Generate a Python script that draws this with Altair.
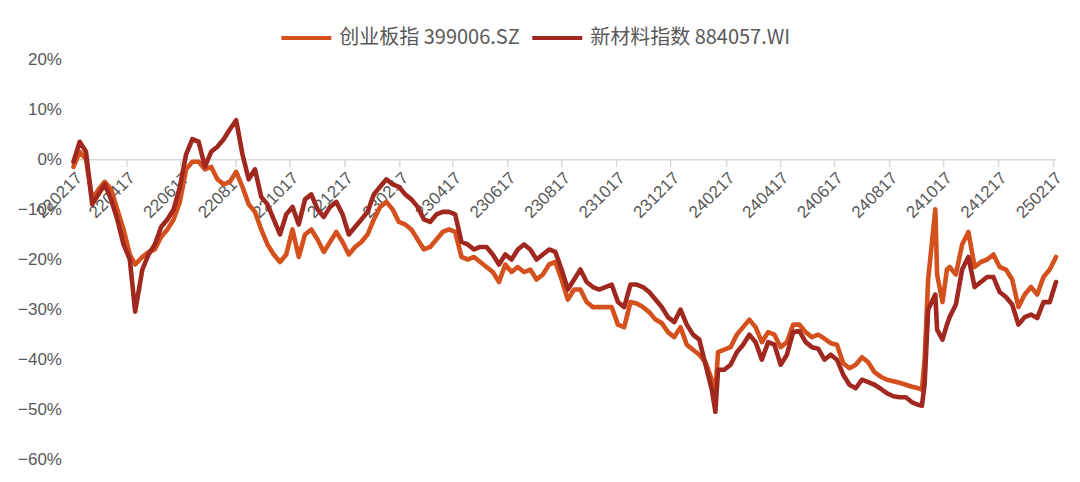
import altair as alt
import pandas as pd

CY = "创业板指 399006.SZ"
NM = "新材料指数 884057.WI"

dates = [
    "2022/02/17", "2022/02/24", "2022/03/03", "2022/03/10", "2022/03/17", "2022/03/24", "2022/03/31",
    "2022/04/07", "2022/04/14", "2022/04/21", "2022/04/27", "2022/05/05", "2022/05/12", "2022/05/19",
    "2022/05/26", "2022/06/02", "2022/06/09", "2022/06/16", "2022/06/23", "2022/06/30", "2022/07/07",
    "2022/07/14", "2022/07/21", "2022/07/28", "2022/08/04", "2022/08/11", "2022/08/18", "2022/08/25",
    "2022/09/01", "2022/09/08", "2022/09/15", "2022/09/22", "2022/09/29", "2022/10/06", "2022/10/13",
    "2022/10/20", "2022/10/27", "2022/11/03", "2022/11/10", "2022/11/17", "2022/11/24", "2022/12/01",
    "2022/12/08", "2022/12/15", "2022/12/22", "2022/12/29",
    "2023/01/05", "2023/01/12", "2023/01/19", "2023/01/26", "2023/02/02", "2023/02/09", "2023/02/16",
    "2023/02/23", "2023/03/02", "2023/03/09", "2023/03/16", "2023/03/23", "2023/03/30", "2023/04/06",
    "2023/04/13", "2023/04/20", "2023/04/27", "2023/05/04", "2023/05/11", "2023/05/18", "2023/05/25",
    "2023/06/01", "2023/06/08", "2023/06/15", "2023/06/22", "2023/06/29", "2023/07/06", "2023/07/13",
    "2023/07/20", "2023/07/27", "2023/08/03", "2023/08/10", "2023/08/17", "2023/08/24", "2023/08/31",
    "2023/09/07", "2023/09/14", "2023/09/21", "2023/09/28", "2023/10/05", "2023/10/12", "2023/10/19",
    "2023/10/26", "2023/11/02", "2023/11/09", "2023/11/16", "2023/11/23", "2023/11/30", "2023/12/07",
    "2023/12/14", "2023/12/21", "2023/12/28",
    "2024/01/04", "2024/01/11", "2024/01/18", "2024/01/25", "2024/02/01", "2024/02/05", "2024/02/08",
    "2024/02/15", "2024/02/22", "2024/02/29", "2024/03/07", "2024/03/14", "2024/03/21", "2024/03/28",
    "2024/04/04", "2024/04/11", "2024/04/18", "2024/04/25", "2024/05/02", "2024/05/09", "2024/05/16",
    "2024/05/23", "2024/05/30", "2024/06/06", "2024/06/13", "2024/06/20", "2024/06/27", "2024/07/04",
    "2024/07/11", "2024/07/18", "2024/07/25", "2024/08/01", "2024/08/08", "2024/08/15", "2024/08/22",
    "2024/08/29", "2024/09/05", "2024/09/12", "2024/09/19", "2024/09/23", "2024/09/26", "2024/09/30",
    "2024/10/08", "2024/10/10", "2024/10/16", "2024/10/21", "2024/10/24", "2024/10/31", "2024/11/07",
    "2024/11/14", "2024/11/21", "2024/11/28", "2024/12/05", "2024/12/12", "2024/12/19", "2024/12/26",
    "2025/01/02", "2025/01/09", "2025/01/16", "2025/01/23", "2025/01/30", "2025/02/06", "2025/02/13",
    "2025/02/20",
]

# 创业板指 399006.SZ, cumulative change in %
cy = [
    -1.5, 1.5, 0, -8, -6, -4.5, -6,
    -10, -14, -19, -21, -19.5, -18.5, -18,
    -15.5, -14, -12, -8.5, -2, -0.5, -0.5,
    -2, -1.5, -4, -5, -4.5, -2.5, -5.5,
    -9, -10.5, -14, -17, -19, -20.5, -19,
    -14, -19.5, -15, -14, -16, -18.5, -16.5,
    -14.5, -16.5, -19, -17.5,
    -16.5, -15, -12, -9.5, -8.5, -10, -12.5,
    -13, -14, -16, -18, -17.5, -16, -14.5,
    -14, -14.5, -19.5, -20, -19.5, -20.5, -21.5,
    -22.5, -24.5, -21, -22.5, -21.5, -22.5, -22,
    -24, -23, -21, -20.5, -24, -28, -26,
    -26, -28.5, -29.5, -29.5, -29.5, -29.5, -33,
    -33.5, -28.5, -28.8, -29.5, -30.5, -32, -32.7,
    -34.5, -35.5, -33.5,
    -37, -38, -39, -40.5, -44, -46.5, -38.5,
    -38, -37.5, -35, -33.5, -32, -33.5, -36.5,
    -34.5, -35, -37.5, -36.5, -33, -33, -34.5,
    -35.5, -35, -35.8, -36.7, -37, -40.7, -41.7,
    -41, -39.5, -40.5, -42.5, -43.4, -44, -44.3,
    -44.6, -45, -45.4, -45.7, -46, -40, -24,
    -10, -23, -28.5, -22, -21.5, -23, -17,
    -14.5, -21.5, -20.5, -20, -19, -21.5, -22,
    -24, -29.5, -27, -25.5, -27, -23.5, -22,
    -19.5,
]

# 新材料指数 884057.WI, cumulative change in %
nm = [
    -0.5, 3.5, 1.5, -9, -7, -5, -8,
    -12, -17, -20, -30.4, -22, -19, -17,
    -13.5, -12, -10, -5.5, 1, 4, 3.5,
    -1.5, 1.5, 2.5, 4, 6, 7.8, 1,
    -4, -2, -7.5, -9, -12, -15, -11,
    -9.5, -13, -8, -7, -10, -11.5, -9.5,
    -8.5, -11, -15, -13.5,
    -12, -10.5, -7, -5.5, -4, -5, -5.5,
    -7, -8, -9.5, -12, -12.5, -11, -10.5,
    -10.5, -11, -16.5, -17, -18, -17.5, -17.5,
    -19, -21, -19, -20, -18, -17, -18,
    -20, -19, -18, -18.5, -22, -26, -24,
    -22, -24.5, -25.5, -26, -25.5, -25, -28.5,
    -29.5, -25, -25, -25.5, -26.5, -28, -29.5,
    -31.5, -32.5, -30,
    -33, -35, -36, -41, -46, -50.4, -42,
    -42, -41, -38.5, -37, -35, -36.5, -40,
    -36.5, -37, -41, -39, -34.5, -34.3, -36.5,
    -37.5, -37.8, -40, -39, -40, -43, -45,
    -45.7, -44, -44.5, -45, -45.8, -46.7, -47.3,
    -47.5, -47.5, -48.5, -49, -49.2, -45, -30,
    -27, -34, -36, -33, -31.5, -29, -22,
    -19.5, -25.5, -24.5, -23.5, -23.5, -26.5, -27.5,
    -29, -33, -31.5, -31, -31.7, -28.5, -28.5,
    -24.5,
]

tick_dates = [
    (2022, 2), (2022, 4), (2022, 6), (2022, 8), (2022, 10), (2022, 12),
    (2023, 2), (2023, 4), (2023, 6), (2023, 8), (2023, 10), (2023, 12),
    (2024, 2), (2024, 4), (2024, 6), (2024, 8), (2024, 10), (2024, 12),
    (2025, 2),
]
y_ticks = [0.2, 0.1, 0.0, -0.1, -0.2, -0.3, -0.4, -0.5, -0.6]

df = pd.DataFrame({
    "date": dates + dates,
    "value": [v / 100 for v in cy] + [v / 100 for v in nm],
    "series": [CY] * len(cy) + [NM] * len(nm),
})

GRAY = "#595959"
LIGHT = "#D9D9D9"

chart = alt.Chart(df).mark_line(
    strokeWidth=4.6, strokeJoin="round", strokeCap="round"
).encode(
    x=alt.X(
        "date:T",
        scale=alt.Scale(
            domain=[alt.DateTime(year=2022, month=2, date=17),
                    alt.DateTime(year=2025, month=2, date=20)],
            nice=False,
        ),
        axis=alt.Axis(
            values=[alt.DateTime(year=y, month=m, date=17) for y, m in tick_dates],
            format="%y%m%d",
            labelAngle=-45,
            labelAlign="right",
            labelBaseline="top",
            labelFlush=False,
            labelOverlap=False,
            offset=-300.75,
            domainColor=LIGHT,
            domainWidth=1.5,
            tickColor=LIGHT,
            tickWidth=1.5,
            tickSize=7,
            labelFont="Liberation Sans",
            labelFontSize=17,
            labelColor=GRAY,
            labelPadding=3,
            grid=False,
            title=None,
        ),
    ),
    y=alt.Y(
        "value:Q",
        scale=alt.Scale(domain=[-0.6, 0.2], nice=False, zero=False),
        axis=alt.Axis(
            values=y_ticks,
            format=".0%",
            grid=False,
            domain=False,
            ticks=False,
            labelPadding=12,
            labelFont="Liberation Sans",
            labelFontSize=17,
            labelColor=GRAY,
            title=None,
        ),
    ),
    color=alt.Color(
        "series:N",
        scale=alt.Scale(domain=[CY, NM], range=["#D4501C", "#A0281F"]),
        legend=alt.Legend(
            title=None,
            orient="none",
            legendX=206,
            legendY=-48,
            direction="horizontal",
            symbolType="stroke",
            symbolSize=2500,
            symbolStrokeWidth=4,
            labelFont="Noto Sans CJK SC",
            labelFontSize=20,
            labelColor=GRAY,
            labelOffset=6,
            labelLimit=400,
            columnPadding=4,
        ),
    ),
).properties(
    width=983,
    height=401,
    autosize=alt.AutoSizeParams(type="none"),
    padding={"left": 65.5, "top": 51, "right": 16, "bottom": 14},
    background="white",
).configure_view(strokeWidth=0)

chart.save("out.html", embed_options={"renderer": "svg", "actions": False})
